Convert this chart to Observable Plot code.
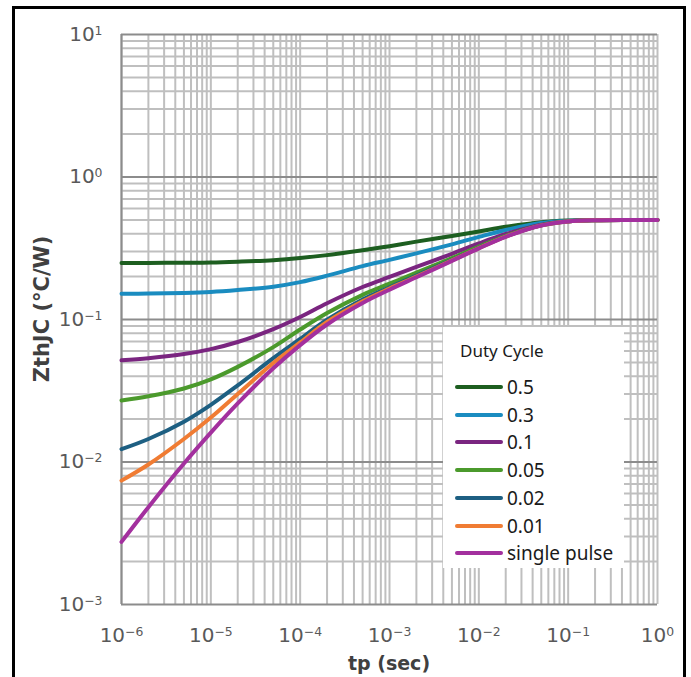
<!DOCTYPE html>
<html><head><meta charset="utf-8">
<script src="https://cdn.jsdelivr.net/npm/d3@7"></script>
<script src="https://cdn.jsdelivr.net/npm/@observablehq/plot@0.6"></script>
<style>
html,body{margin:0;padding:0;background:#fff;overflow:hidden}
#wrap{position:relative;width:691px;height:677px}
#frame{position:absolute;left:12px;top:6px;width:668px;height:700px;border:3px solid #000;pointer-events:none}
#legend{position:absolute;left:443px;top:327px;width:181px;height:241px;background:#fff;font-family:"Noto Sans",sans-serif;color:#1a1a1a}
#legend .title{position:absolute;left:17px;top:12px;font-size:17px}
#legend .row{position:absolute;left:12px;height:24px;display:flex;align-items:center;font-size:19px}
#legend .sw{width:48px;height:4px;border-radius:2px;margin-right:4px}
</style></head>
<body><div id="wrap"></div>
<script>
const tp = [1e-6,2e-6,5e-6,1e-5,2e-5,5e-5,1e-4,2e-4,5e-4,1e-3,2e-3,5e-3,1e-2,2e-2,5e-2,1e-1,2e-1,5e-1,1];
const d50 = [0.249,0.2495,0.25,0.251,0.2545,0.261,0.27,0.283,0.306,0.327,0.352,0.386,0.415,0.447,0.482,0.495,0.499,0.5,0.5];
const d30 = [0.1515,0.152,0.1535,0.156,0.161,0.17,0.183,0.203,0.237,0.262,0.291,0.337,0.38,0.425,0.475,0.493,0.4985,0.5,0.5];
const d10 = [0.0517,0.0535,0.0572,0.062,0.0695,0.0855,0.104,0.13,0.169,0.199,0.234,0.289,0.342,0.398,0.463,0.4895,0.498,0.5,0.5];
const d05 = [0.027,0.0289,0.0328,0.038,0.0465,0.064,0.085,0.111,0.149,0.1785,0.213,0.27,0.325,0.3865,0.459,0.4886,0.498,0.5,0.5];
const d02 = [0.0123,0.0145,0.0192,0.0252,0.0345,0.0535,0.073,0.0995,0.138,0.168,0.2035,0.2625,0.319,0.383,0.458,0.488,0.498,0.5,0.5];
const d01 = [0.0074,0.0096,0.0145,0.0205,0.030,0.0495,0.069,0.096,0.134,0.165,0.2,0.26,0.317,0.382,0.4575,0.488,0.498,0.5,0.5];
const dsp = [0.00275,0.00482,0.00976,0.01607,0.02576,0.04545,0.0661,0.0922,0.1305,0.1618,0.1978,0.258,0.3155,0.3805,0.457,0.488,0.498,0.5,0.5];
const seriesNames = ["0.5","0.3","0.1","0.05","0.02","0.01","single pulse"];
const seriesValues = [d50,d30,d10,d05,d02,d01,dsp];
const seriesColors = ["#1d5e20","#1a8cc0","#7a2580","#4b9a2c","#1d5f82","#f07c33","#a3309e"];
const xTicks = [1e-6,1e-5,1e-4,1e-3,1e-2,1e-1,1];
const xTickLabels = ["10^-6","10^-5","10^-4","10^-3","10^-2","10^-1","10^0"];
const yTicks = [1e-3,1e-2,1e-1,1,10];
const yTickLabels = ["10^-3","10^-2","10^-1","10^0","10^1"];

const xGrid = d3.range(-6,0).flatMap(e => d3.range(1,10).map(m => m*Math.pow(10,e))).concat([1]);
const yMinor = d3.range(-3,1).flatMap(e => d3.range(2,10).map(m => m*Math.pow(10,e)));

const lineMarks = seriesNames.map((name,i) =>
  Plot.line(tp.map((t,j)=>({tp:t, z:seriesValues[i][j]})), {x:"tp", y:"z", stroke:seriesColors[i], strokeWidth:4, curve:"catmull-rom"}));

const chart = Plot.plot({
  width:691, height:677,
  marginLeft:121, marginRight:34, marginTop:34, marginBottom:73,
  style:{fontFamily:"DejaVu Sans, sans-serif", fontSize:"20px", background:"transparent"},
  x:{type:"log", domain:[1e-6,1]},
  y:{type:"log", domain:[1e-3,10]},
  marks:[
    Plot.ruleX(xGrid, {stroke:"#bfbfbf", strokeWidth:2}),
    Plot.ruleY(yMinor, {stroke:"#bfbfbf", strokeWidth:2}),
    Plot.ruleY(yTicks, {stroke:"#8c8c8c", strokeWidth:2}),
    Plot.ruleX([1e-6], {stroke:"#8c8c8c", strokeWidth:2}),
    ...lineMarks,
    Plot.axisX(xTicks, {tickSize:0, tickPadding:23, fontSize:20, color:"#595959", label:null,
      tickFormat:(d)=>xTickLabels[xTicks.indexOf(d)]}),
    Plot.axisY(yTicks, {tickSize:0, tickPadding:19, fontSize:20, color:"#595959", label:null,
      tickFormat:(d)=>yTickLabels[yTicks.indexOf(d)]})
  ]
});

d3.select(chart).selectAll("text").each(function(){
  const t = this.textContent;
  const m = /^10\^(-?\d+)$/.exec(t);
  if (m) {
    const el = d3.select(this);
    el.text("10");
    el.append("tspan").attr("dy","-0.5em").attr("font-size","0.62em").text(m[1].replace("-","\u2212"));
  }
});
const svg = d3.select(chart);
svg.append("text").attr("x",389).attr("y",670).attr("text-anchor","middle")
  .attr("font-family","DejaVu Sans, sans-serif").attr("font-weight","bold").attr("font-size",19)
  .attr("fill","#404040").text("tp (sec)");
svg.append("text").attr("transform","translate(49,309) rotate(-90)").attr("text-anchor","middle")
  .attr("font-family","DejaVu Sans, sans-serif").attr("font-weight","bold").attr("font-size",21)
  .attr("fill","#404040").text("ZthJC (°C/W)");

const wrap = document.getElementById("wrap");
wrap.appendChild(chart);
const frame = document.createElement("div"); frame.id="frame"; wrap.appendChild(frame);
const legend = document.createElement("div"); legend.id="legend";
const title = document.createElement("div"); title.className="title"; title.textContent="Duty Cycle"; legend.appendChild(title);
seriesNames.forEach((name,i)=>{
  const row = document.createElement("div"); row.className="row"; row.style.top=(48+i*27.7)+"px";
  const sw = document.createElement("div"); sw.className="sw"; sw.style.background=seriesColors[i];
  const lab = document.createElement("span"); lab.textContent=name;
  row.appendChild(sw); row.appendChild(lab); legend.appendChild(row);
});
wrap.appendChild(legend);
</script>
</body></html>
